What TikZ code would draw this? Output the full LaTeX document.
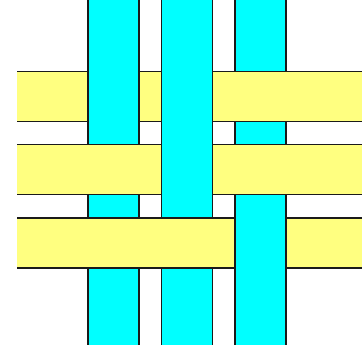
\documentclass[tikz,border=0pt]{standalone}
\usepackage{tikz}
\definecolor{WarpCyan}{HTML}{00FFFF}
\definecolor{WeftYellow}{HTML}{FFFF80}
\definecolor{WeaveInk}{HTML}{1A1A1A}
\tikzset{
  warp/.style={fill=WarpCyan},
  weft/.style={fill=WeftYellow},
  rim/.style={draw=WeaveInk,line width=1.3pt}
}
\begin{document}
\begin{tikzpicture}[x=1pt,y=-1pt]
        \useasboundingbox (0,0) rectangle (362,345);
        \begin{scope}
        \clip (0,0) rectangle (362,345);
        % warp strips
        \foreach \xa in {88,161.5,235}{
          \fill[warp] (\xa,-2) rectangle (\xa+51,347);
          \draw[rim] (\xa,-2) -- (\xa,347);
          \draw[rim] (\xa+51,-2) -- (\xa+51,347);
        }
        % weft strips
        \foreach \ya in {71.5,144.5,218}{
          \fill[weft] (17,\ya) rectangle (364,\ya+50);
          \draw[rim] (17,\ya) -- (364,\ya);
          \draw[rim] (17,\ya+50) -- (364,\ya+50);
        }
        % warp over weft
        \foreach \xa/\ya in {88/71.5,161.5/71.5,161.5/144.5,235/218}{
          \fill[warp] (\xa,\ya-1.5) rectangle (\xa+51,\ya+51.5);
          \draw[rim] (\xa,\ya-1.5) -- (\xa,\ya+51.5);
          \draw[rim] (\xa+51,\ya-1.5) -- (\xa+51,\ya+51.5);
        }
        \end{scope}
      \end{tikzpicture}
\end{document}
